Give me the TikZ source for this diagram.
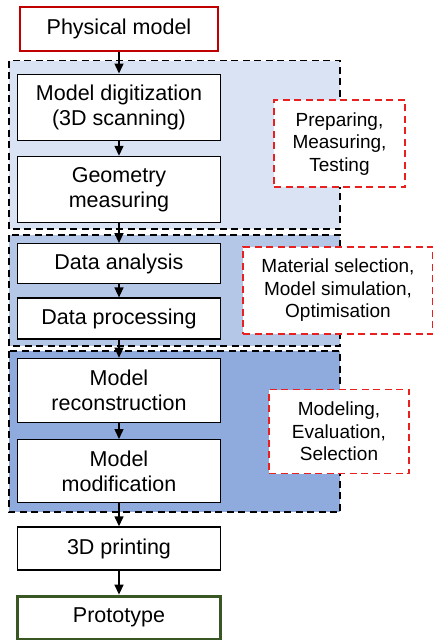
\documentclass[tikz,border=0pt]{standalone}
\usepackage{fontspec}
\setmainfont{Liberation Sans}
\usetikzlibrary{arrows.meta,positioning,calc,backgrounds}
\definecolor{ink}{RGB}{0,0,0}
\definecolor{startred}{RGB}{192,0,0}
\definecolor{endgreen}{RGB}{56,87,35}
\definecolor{notered}{RGB}{232,32,32}
\definecolor{bandone}{RGB}{218,227,243}
\definecolor{bandtwo}{RGB}{180,199,231}
\definecolor{bandthree}{RGB}{143,170,220}
\tikzset{
  every picture/.style={color=ink, line width=1.3pt},
  box/.style={draw=ink, fill=white, inner sep=3pt, minimum width=203pt, minimum height=42pt, align=center, font=\fontsize{21.5}{25}\selectfont},
  tall/.style={box, minimum height=66pt},
  start/.style={box, draw=startred, line width=2pt, minimum width=198pt, minimum height=44pt},
  finish/.style={box, draw=endgreen, line width=3pt},
  note/.style={draw=notered, dash pattern=on 7pt off 4.5pt, fill=white, line width=1.8pt, align=center, inner sep=3pt, font=\fontsize{19}{22.5}\selectfont},
  band/.style={draw=ink, dash pattern=on 7pt off 4.5pt, line width=1.8pt},
  flow/.style={-{Triangle[length=10pt,width=9pt]}, line width=1.4pt},
}
\begin{document}
\begin{tikzpicture}
  \useasboundingbox (0,0) rectangle (432pt,-640pt);
  % main column, top to bottom
  \node[start] (phys) at (119pt,-28.5pt) {Physical model};
  \node[tall, below=22pt of phys] (digit) {Model digitization\\(3D scanning)};
  \node[tall, below=15pt of digit] (geom) {Geometry\\measuring};
  \node[box, minimum height=40pt, below=20pt of geom] (anal) {Data analysis};
  \node[box, minimum height=41pt, below=13pt of anal] (proc) {Data processing};
  \node[tall, minimum height=64pt, below=18pt of proc] (recon) {Model\\reconstruction};
  \node[tall, minimum height=63pt, below=16pt of recon] (modif) {Model\\modification};
  \node[box, minimum height=43pt, below=23pt of modif] (print) {3D printing};
  \node[finish, minimum height=43pt, below=24pt of print] (proto) {Prototype};
  % shaded stages behind the column
  \begin{scope}[on background layer]
    \draw[band, fill=bandone] ($(digit.north west)+(-8pt,13pt)$) rectangle ($(geom.south east)+(119pt,-6pt)$);
    \draw[band, fill=bandtwo] ($(anal.north west)+(-8pt,8pt)$) rectangle ($(proc.south east)+(119pt,-6pt)$);
    \draw[band, fill=bandthree] ($(recon.north west)+(-8pt,7pt)$) rectangle ($(modif.south east)+(119pt,-9pt)$);
  \end{scope}
  % side notes
  \node[note, minimum width=131pt, minimum height=87pt] (prep) at ($(digit)!0.5!(geom)+(220.5pt,4.5pt)$) {Preparing,\\Measuring,\\Testing};
  \node[note, minimum width=190pt, minimum height=87pt] (mat) at ($(anal)!0.5!(proc)+(219pt,0.75pt)$) {Material selection,\\Model simulation,\\Optimisation};
  \node[note, minimum width=140pt, minimum height=84pt] (eval) at ($(recon)!0.5!(modif)+(220pt,-0.75pt)$) {Modeling,\\Evaluation,\\Selection};
  \draw[flow] (phys) -- (digit);
  \draw[flow] (digit) -- (geom);
  \draw[flow] (geom) -- (anal);
  \draw[flow] (anal) -- (proc);
  \draw[flow] (proc) -- (recon);
  \draw[flow] (recon) -- (modif);
  \draw[flow] (modif) -- (print);
  \draw[flow] (print) -- (proto);
\end{tikzpicture}
\end{document}
